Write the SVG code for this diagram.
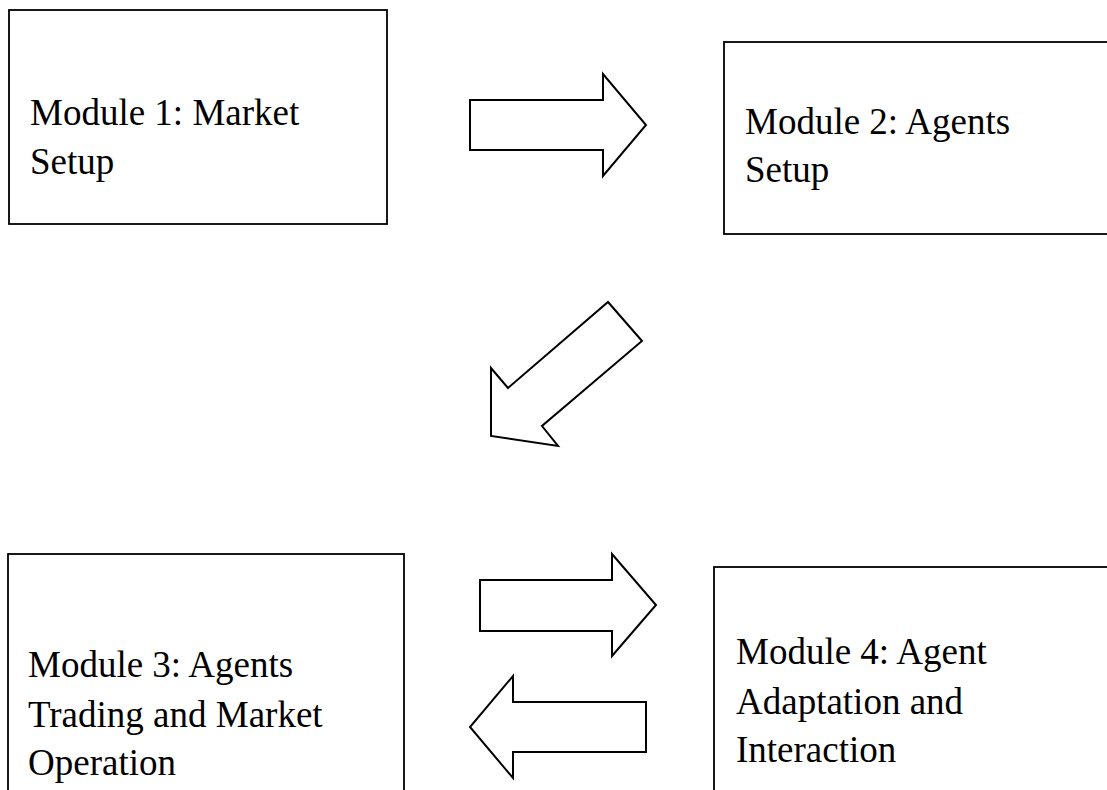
<svg xmlns="http://www.w3.org/2000/svg" width="1107" height="790" viewBox="0 0 1107 790">
<style>
.box{fill:#fff;stroke:#000;stroke-width:1.8}
.arr{fill:#fff;stroke:#000;stroke-width:2;stroke-linejoin:miter}
text{font-family:"Liberation Serif","Times New Roman",serif;font-size:37px;fill:#000}
</style>
<rect width="1107" height="790" fill="#fff"/>
<g id="module1">
<rect class="box" x="9" y="10" width="378" height="214"/>
<text x="30" y="125">Module 1: Market</text>
<text x="30" y="174">Setup</text>
</g>
<g id="module2">
<rect class="box" x="724" y="42" width="400" height="192"/>
<text x="745" y="134">Module 2: Agents</text>
<text x="745" y="182">Setup</text>
</g>
<g id="module3">
<rect class="box" x="8" y="554" width="396" height="260"/>
<text x="28" y="677">Module 3: Agents</text>
<text x="28" y="727">Trading and Market</text>
<text x="28" y="775">Operation</text>
</g>
<g id="module4">
<rect class="box" x="714" y="567" width="420" height="250"/>
<text x="736" y="664">Module 4: Agent</text>
<text x="736" y="714">Adaptation and</text>
<text x="736" y="762">Interaction</text>
</g>
<g id="connectors">
<polygon class="arr" points="470,100 603,100 603,74 646,125 603,176 603,150 470,150"/>
<polygon class="arr" points="608,302 642,341 542,426 558,446 491,436 491,368 508,388"/>
<polygon class="arr" points="480,580 612,580 612,554 656,605 612,656 612,631 480,631"/>
<polygon class="arr" points="646,702 513,702 513,676 470,727 513,778 513,752 646,752"/>
</g>
</svg>
